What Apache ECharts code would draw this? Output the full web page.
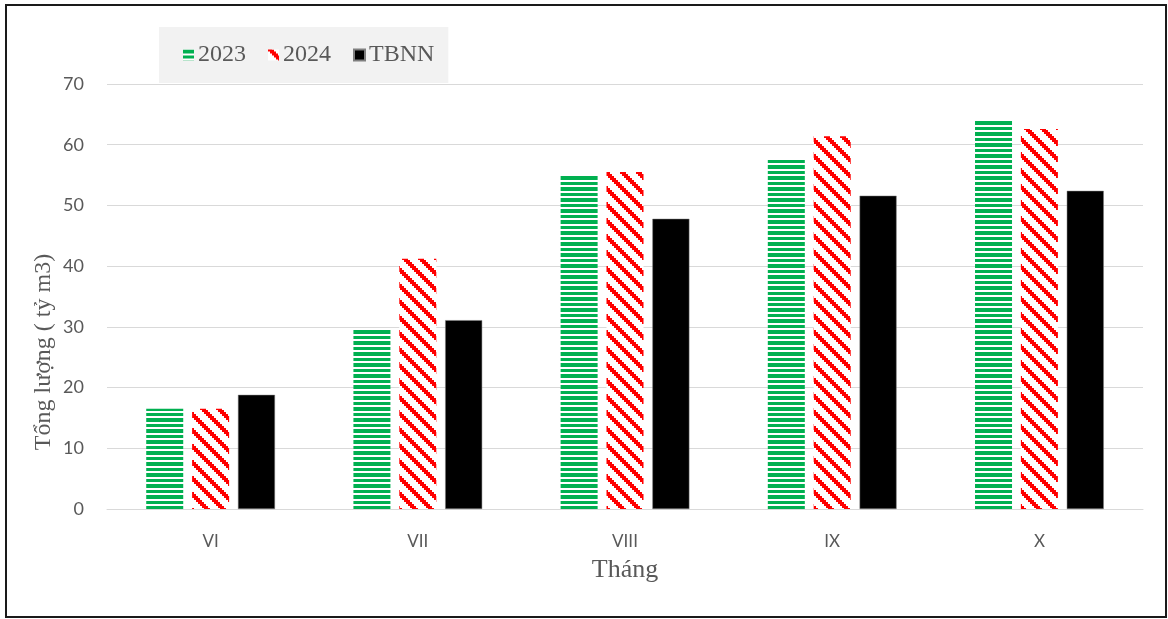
<!DOCTYPE html>
<html>
<head>
<meta charset="utf-8">
<script src="https://cdn.jsdelivr.net/npm/echarts@6/dist/echarts.min.js"></script>
<style>
  html, body { margin: 0; padding: 0; background: #fff; }
  #wrap { position: relative; width: 1168px; height: 619px; }
  #chart { position: absolute; left: 0; top: 0; width: 1168px; height: 619px; }
  #frame { position: absolute; left: 5px; top: 4px; width: 1158px; height: 610px;
           border: 2px solid #1a1a1a; pointer-events: none; }
</style>
</head>
<body>
<div id="wrap">
  <div id="chart"></div>
  <div id="frame"></div>
</div>
<script>
// Monthly total flow (billion m3)
const months = ['VI', 'VII', 'VIII', 'IX', 'X'];
const seriesNames = ['2023', '2024', 'TBNN'];
const values2023 = [16.5, 29.5, 55.0, 57.8, 64.2];
const values2024 = [16.5, 41.2, 55.5, 61.4, 62.6];
const valuesTBNN = [18.8, 31.1, 47.8, 51.6, 52.4];
const yTicks = [0, 10, 20, 30, 40, 50, 60, 70];

// Horizontal green stripe fill
function stripePattern() {
  const c = document.createElement('canvas');
  c.width = 8; c.height = 11;
  const g = c.getContext('2d');
  g.fillStyle = '#ffffff'; g.fillRect(0, 0, 8, 11);
  g.fillStyle = '#00B050';
  g.fillRect(0, 0, 8, 4);
  g.fillRect(0, 6, 8, 3);
  return c;
}

// Stepped red downward-diagonal fill
function diagonalPattern() {
  const size = 16, c = document.createElement('canvas');
  c.width = size; c.height = size;
  const g = c.getContext('2d');
  g.fillStyle = '#ffffff'; g.fillRect(0, 0, size, size);
  g.fillStyle = '#FF0000';
  for (let by = 0; by < 8; by++) {
    for (let bx = 0; bx < 8; bx++) {
      const d = ((bx - by) % 8 + 8) % 8;
      if (d < 3) g.fillRect(bx * 2, by * 2, 2, 2);
    }
  }
  return c;
}

const chart = echarts.init(document.getElementById('chart'), null, { renderer: 'canvas' });
const serif = '"Liberation Serif", "Times New Roman", serif';
const sans = 'Lato, "Liberation Sans", sans-serif';

chart.setOption({
  animation: false,
  backgroundColor: '#ffffff',
  grid: { left: 107, right: 25, top: 84, bottom: 110 },
  legend: {
    left: 159, top: 27,
    padding: [16, 14, 16, 24],
    backgroundColor: '#F2F2F2',
    icon: 'rect',
    itemWidth: 11, itemHeight: 11, itemGap: 22,
    textStyle: { fontFamily: serif, fontSize: 24, color: '#595959', padding: [3, 0, 0, -1] },
    data: seriesNames
  },
  xAxis: {
    type: 'category',
    data: months,
    name: 'Tháng',
    nameLocation: 'middle',
    nameGap: 48,
    nameTextStyle: { fontFamily: serif, fontSize: 26, color: '#595959' },
    axisLine: { show: true, lineStyle: { color: '#D9D9D9', width: 1 } },
    axisTick: { show: false },
    axisLabel: { fontFamily: sans, fontSize: 17, color: '#595959', margin: 24 }
  },
  yAxis: {
    type: 'value',
    min: yTicks[0], max: yTicks[yTicks.length - 1], interval: 10,
    axisLine: { show: false },
    axisTick: { show: false },
    axisLabel: { fontFamily: sans, fontSize: 18, color: '#595959', margin: 23 },
    splitLine: { lineStyle: { color: '#D9D9D9', width: 1 } }
  },
  graphic: [{
    type: 'text',
    x: 44, y: 352,
    rotation: Math.PI / 2,
    style: {
      text: 'Tổng lượng ( tỷ m3)',
      font: '24px ' + serif,
      fill: '#595959',
      align: 'center',
      verticalAlign: 'middle'
    }
  }],
  series: [
    {
      name: seriesNames[0], type: 'bar', data: values2023,
      barWidth: 37, barGap: '24%',
      itemStyle: { color: { image: stripePattern(), repeat: 'repeat' } }
    },
    {
      name: seriesNames[1], type: 'bar', data: values2024,
      barWidth: 37, barGap: '24%',
      itemStyle: { color: { image: diagonalPattern(), repeat: 'repeat' } }
    },
    {
      name: seriesNames[2], type: 'bar', data: valuesTBNN,
      barWidth: 37, barGap: '24%',
      itemStyle: { color: '#000000', borderColor: '#7f7f7f', borderWidth: 0.5 }
    }
  ]
});
</script>
</body>
</html>
